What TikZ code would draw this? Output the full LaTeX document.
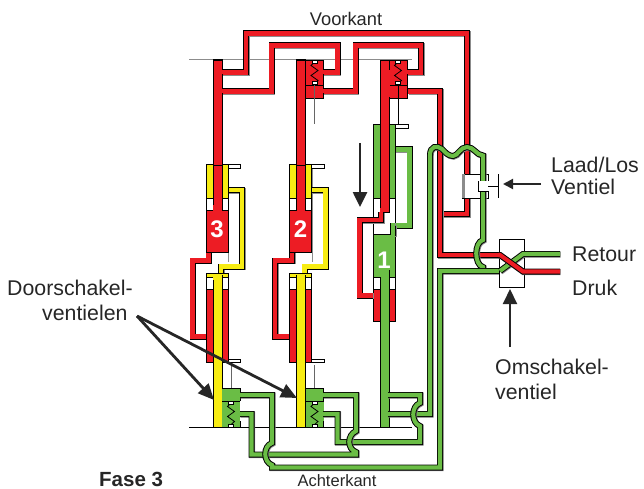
\documentclass[tikz,border=0pt]{standalone}
\usepackage{fontspec}
\setmainfont{Liberation Sans}
\usetikzlibrary{arrows.meta}
\definecolor{rd}{HTML}{ED1C24}
\definecolor{gn}{HTML}{6ABD45}
\definecolor{yl}{HTML}{F7EC13}
\definecolor{sh}{HTML}{8C8C8C}
\newcommand\pipe[2]{%
  \draw[sh,line width=6pt,miter limit=10,xshift=.7pt,yshift=-.7pt] #2;
  \draw[black,line width=6pt,miter limit=10] #2;
  \draw[#1,line width=4.1pt,miter limit=10] #2;}
\newcommand\blk[5]{%
  \fill[sh] (#2+.9,#3+.9) rectangle (#4+.9,#5+.9);
  \draw[black,line width=.7pt,fill=#1] (#2,#3) rectangle (#4,#5);}
\newcommand\spring[2]{%
  \draw[black,line width=.8pt] (#1,#2) -- ++(-3.5,3.5) -- ++(7,5) -- ++(-7,5) -- ++(7,5) -- ++(-3.5,3);}
\newcommand\cp[2]{\draw[black,line width=.5pt,fill=white] (#1-2.6,#2-1.5) rectangle (#1+2.6,#2+1.5);}
\tikzset{lbl/.style={font=\fontsize{21.3}{24}\selectfont,text=black!85,inner sep=0pt},
  bigarrow/.style={line width=2.6pt,black!85,-{Triangle[length=15pt,width=14pt]}},
  smallarrow/.style={line width=2pt,black!85,-{Triangle[length=10pt,width=10pt]}},
  thinarrow/.style={line width=2.8pt,black!85,-{Triangle[length=16pt,width=14pt]}}}
\begin{document}
\begin{tikzpicture}[x=1pt,y=-1pt]
\useasboundingbox (0,0) rectangle (644,489);
% base lines
\draw[sh,line width=1pt] (189,60) -- (412,60);
\draw[black,line width=.9pt] (189,427) -- (412,427);
% outer red pipes
\pipe{rd}{(222,72.5) -- (246,72.5) -- (246,33.5) -- (467,33.5) -- (467,214) -- (440,214)}
\pipe{rd}{(222,91.5) -- (271.5,91.5) -- (271.5,45.5) -- (337.5,45.5) -- (337.5,72.5) -- (323,72.5)}
\pipe{rd}{(323,91.5) -- (355.5,91.5) -- (355.5,45.5) -- (421,45.5) -- (421,72.5) -- (407,72.5)}
% columns 3 and 2
\foreach \d/\lab/\lx in {0/3/192.5,83.5/2/191.5}{
\begin{scope}[xshift=\d pt]
 \draw[sh,line width=.8pt] (228.6,165) -- (228.6,262);
 \pipe{yl}{(228,190) -- (242,190) -- (242,266.5) -- (221,266.5) -- (221,275)}
 \pipe{rd}{(208.5,251) -- (208.5,260.5) -- (\lx,260.5) -- (\lx,336.5) -- (206,336.5)}
 \blk{yl}{206}{164}{228}{198}
 \blk{white}{206}{198}{228}{210}
 \blk{rd}{206}{210}{228}{252}
 \fill[white] (214,252.5) rectangle (227.5,263.5);
 \blk{white}{206}{277}{228}{289}
 \blk{yl}{206}{273}{228}{277}
 \blk{rd}{206}{289}{228}{362}
 \blk{white}{228}{164.5}{240.5}{168}
 \blk{white}{228}{359.5}{240.5}{362.5}
 \draw[black,line width=.7pt,fill=rd] (213,59.5) rectangle (222,210.5);
 \fill[rd] (213.4,205) rectangle (221.6,212);
 \draw[black,line width=.7pt,fill=yl] (213,275) rectangle (222,427);
 \fill[yl] (213.4,273.5) rectangle (221.6,280);
 \node[font=\fontsize{24}{24}\bfseries\selectfont,text=white,inner sep=0pt] (n\lab) at (217,229.5) {\lab};
 \draw[black!60,line width=.8pt] (231,365) -- (231,403);
 % lower valve
 \fill[gn] (222,388) rectangle (240,427);
 \draw[black,line width=.6pt] (222,401) -- (240,401) (240,388) -- (240,401) (222,388) -- (240,388) (240,421) -- (240,427);
 \spring{231}{403}
 \cp{231}{403}\cp{231}{426}
\end{scope}}
% top valves
\foreach \c in {314.5,398}{
 \draw[black,line width=.6pt,fill=rd] (\c-9,60) rectangle (\c+9,85);
 \draw[black,line width=.6pt,fill=rd] (\c-9,85) -- (\c+9,85) -- (\c+9,98) -- (\c-9,98) -- cycle;
 \spring{\c}{62}
 \cp{\c}{61.5}\cp{\c}{83}
}
\draw[black!60,line width=.8pt] (314.5,85) -- (314.5,124);
\draw[black,line width=.8pt] (398,85) -- (398,124);
\fill[rd] (319,70.5) rectangle (324.5,74.5);
\fill[rd] (319,89.5) rectangle (324.5,93.5);
\fill[rd] (403,70.5) rectangle (408.5,74.5);
% column 2's and 3's main stems above
\draw[black,line width=.7pt,fill=rd] (296.5,60) rectangle (305.5,165);
\draw[black,line width=.7pt,fill=rd] (213,60) rectangle (222,165);
\fill[rd] (218,70.5) rectangle (224,74.5);
\fill[rd] (218,89.5) rectangle (224,93.5);
% column 1
\pipe{gn}{(395,149.5) -- (409.5,149.5) -- (409.5,225.5) -- (393,225.5) -- (393,235)}
\pipe{rd}{(373,295.5) -- (359.5,295.5) -- (359.5,220) -- (378,220)}
\blk{gn}{373}{124}{395}{198}
\blk{white}{373}{198}{395}{234}
\blk{gn}{373}{234}{395}{277}
\blk{white}{373}{277}{395}{289}
\blk{rd}{373}{289}{395}{321}
\pipe{rd}{(373,295.5) -- (362,295.5)}
\pipe{rd}{(362,220) -- (381,220) -- (381,212)}
\pipe{gn}{(395,225.5) -- (393,225.5) -- (393,236)}
\fill[gn] (373.5,234.5) rectangle (394.5,240);
\blk{white}{395}{124}{408}{128}
\draw[black,line width=.7pt,fill=rd] (380,60) rectangle (389,212);
\fill[rd] (380.4,208) rectangle (383,218);
\draw[black,line width=.7pt,fill=gn] (380,270) rectangle (389,427);
\fill[gn] (380.4,265) rectangle (388.6,277);
\fill[rd] (385,70) rectangle (390,97);
\node[font=\fontsize{24}{24}\bfseries\selectfont,text=white,inner sep=0pt] (n1) at (384,260) {1};
% red to switch valve
\pipe{rd}{(408,91.5) -- (440,91.5) -- (440,255) -- (500,255)}
% Laad/Los valve
\blk{white}{462}{174}{488}{198}
\fill[sh] (462,174) rectangle (465,198);
% green pipes with crossings
\pipe{gn}{(388,414) -- (430,414) -- (430,155) .. controls (430,146) and (437,145) .. (442,149) .. controls (445,152) and (448,156) .. (453,156) .. controls (458,156) and (460,147) .. (467,147) .. controls (474,147) and (476,155) .. (483,155.5) -- (483,240) .. controls (474,242) and (474,265) .. (483,267) -- (483,271)}
\pipe{gn}{(323,414) -- (337.5,414) -- (337.5,442) -- (420,442) -- (420,426) .. controls (411,423) and (411,406) .. (420,403) -- (420,395) -- (388,395)}
\pipe{gn}{(240,414) -- (251.5,414) -- (251.5,454.5) -- (356,454.5) -- (356,452) .. controls (347,449) and (347,435) .. (356,431) -- (356,395) -- (323,395)}
\pipe{gn}{(240,395) -- (272,395) -- (272,443) .. controls (263,446) and (263,462) .. (272,465) -- (272,467.5) -- (440,467.5) -- (440,271) -- (500,271)}
% notch on Laad/Los
\draw[black,line width=.6pt] (488,181) -- (478,181) -- (478,191) -- (488,191);
\fill[white] (479,181.4) rectangle (488.5,190.6);
\draw[black,line width=.8pt] (488,186) -- (498,186) (498,174) -- (498,198);
% switch valve
\blk{white}{499.5}{239}{524}{287}
\pipe{gn}{(560,254) -- (523,254) -- (500,271)}
\pipe{rd}{(498,255) -- (500,255) -- (523,271.5) -- (560,271.5)}
% labels
\node[lbl,anchor=base,font=\fontsize{18.3}{20}\selectfont] (voor) at (346,25.5) {Voorkant};
\node[lbl,anchor=base,font=\fontsize{16.5}{20}\selectfont] (acht) at (337,486) {Achterkant};
\node[lbl,anchor=base west] (laad) at (551,172) {Laad/Los};
\node[lbl,anchor=base west] (vent) at (551,194) {Ventiel};
\node[lbl,anchor=base west] (ret) at (572,261.5) {Retour};
\node[lbl,anchor=base west] (dr) at (572,295) {Druk};
\node[lbl,anchor=base west] (oms) at (495,374) {Omschakel-};
\node[lbl,anchor=base west] (ovent) at (495,399) {ventiel};
\node[lbl,anchor=base west] (door) at (7,295.5) {Doorschakel-};
\node[lbl,anchor=base west] (dvent) at (42,320) {ventielen};
\node[lbl,anchor=base west,font=\fontsize{20.5}{22}\bfseries\selectfont] (fase) at (99,486) {Fase 3};
% arrows
\coordinate (d0) at (137,316);
\coordinate (t3) at (214,400);
\coordinate (t2) at (297,398);
\draw[thinarrow] (d0) -- (t3);
\draw[thinarrow] (d0) -- (t2);
\coordinate (a0) at (360,143); \coordinate (a1) at (360,207);
\draw[bigarrow] (a0) -- (a1);
\coordinate (b0) at (541,184); \coordinate (b1) at (503,184);
\draw[smallarrow] (b0) -- (b1);
\coordinate (c0) at (510,347); \coordinate (c1) at (510,289);
\draw[bigarrow,line width=2pt] (c0) -- (c1);
\end{tikzpicture}
\end{document}
